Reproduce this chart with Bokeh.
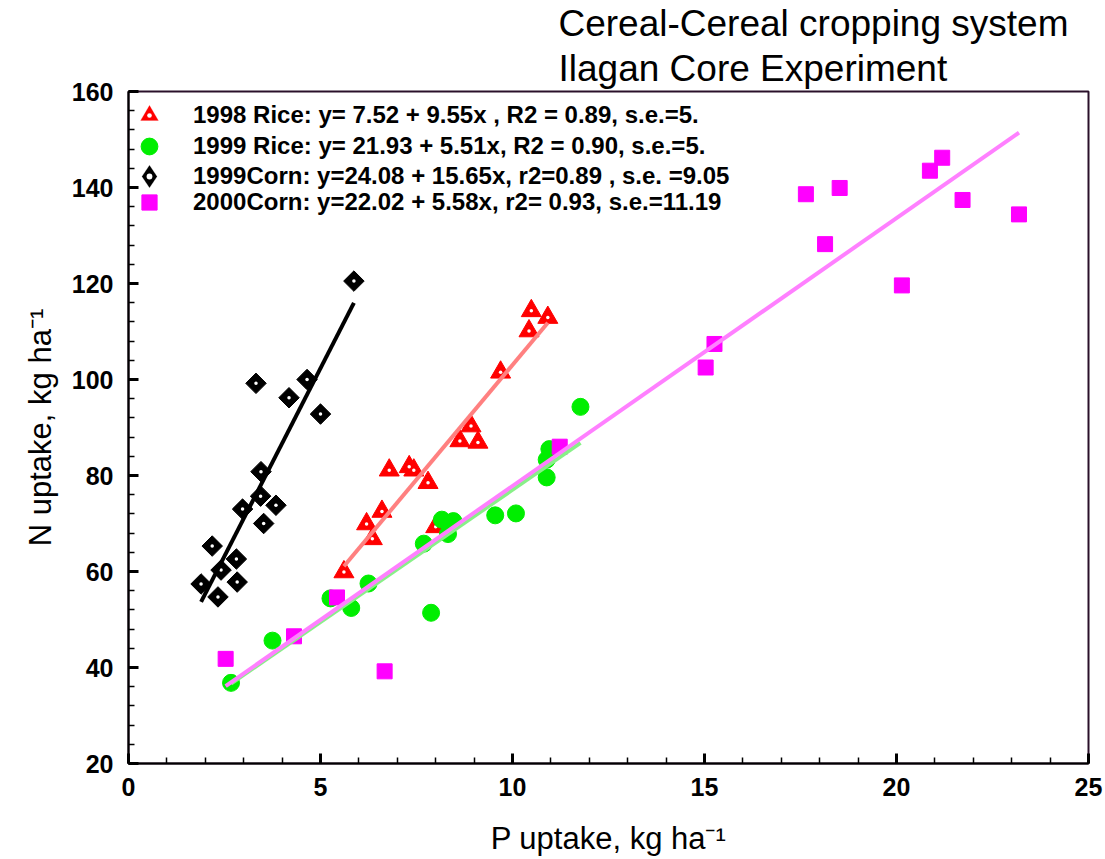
import math
from bokeh.plotting import figure
from bokeh.models import (Range1d, SingleIntervalTicker, Legend, LegendItem, Title)
from bokeh.embed import file_html
from bokeh.resources import INLINE

# ---------------- data ----------------
rice98_x = [10.49, 10.92, 10.43, 9.69, 8.92, 8.63, 9.10, 6.79, 7.31, 7.43, 7.80, 6.60, 6.20, 6.35, 8.00, 5.61]
rice98_y = [114.3, 112.9, 110.1, 101.5, 90.3, 87.2, 86.9, 81.1, 81.8, 81.1, 78.5, 72.5, 69.9, 66.8, 69.3, 59.9]

rice99_x = [2.67, 3.75, 5.26, 5.80, 6.25, 7.88, 7.69, 8.16, 8.46, 8.32, 9.55, 10.09, 10.89, 10.89, 10.96, 11.77]
rice99_y = [36.8, 45.6, 54.4, 52.4, 57.5, 51.4, 65.8, 70.8, 70.5, 67.8, 71.7, 72.1, 79.6, 83.3, 85.5, 94.3]

corn99_x = [5.87, 3.32, 4.65, 4.18, 5.00, 3.45, 3.44, 2.97, 3.84, 3.52, 2.18, 2.81, 2.41, 2.83, 1.89, 2.33]
corn99_y = [120.5, 99.2, 100.0, 96.2, 92.8, 80.8, 75.7, 73.0, 73.8, 70.0, 65.3, 62.6, 60.3, 57.8, 57.4, 54.7]

corn00_x = [2.53, 4.31, 5.43, 6.67, 11.23, 15.03, 15.26, 17.64, 18.14, 18.52, 20.14, 20.87, 21.19, 21.72, 23.19]
corn00_y = [41.8, 46.5, 54.6, 39.2, 86.0, 102.5, 107.4, 138.6, 128.2, 139.9, 119.6, 143.5, 146.2, 137.4, 134.4]

# regression coefficients (intercept, slope) as given in the legend
rice98_fit = [7.52, 9.55]
rice99_fit = [21.93, 5.51]
corn99_fit = [24.08, 15.65]
corn00_fit = [22.02, 5.58]

legend_labels = [
    "1998 Rice: y= 7.52 + 9.55x , R2 = 0.89, s.e.=5.",
    "1999 Rice: y= 21.93 + 5.51x, R2 = 0.90, s.e.=5.",
    "1999Corn: y=24.08 + 15.65x, r2=0.89 , s.e. =9.05",
    "2000Corn: y=22.02 + 5.58x, r2= 0.93, s.e.=11.19",
]
title_lines = ["Cereal-Cereal cropping system", "Ilagan Core Experiment"]
x_label = "P uptake, kg ha\u207b\u00b9"
y_label = "N uptake, kg ha\u207b\u00b9"

FONT = "Liberation Sans"

# ---------------- figure ----------------
W, H = 1105, 859
FL, FR, FT, FB = 128, 1088, 91, 763

p = figure(width=W, height=H, output_backend="svg", toolbar_location=None,
           x_range=Range1d(0, 25), y_range=Range1d(20, 160))
p.min_border_left = FL
p.min_border_right = W - FR
p.min_border_top = FT
p.min_border_bottom = H - FB
p.background_fill_color = "white"
p.border_fill_color = "white"
p.outline_line_color = "#2a102a"
p.outline_line_width = 2
p.xgrid.visible = False
p.ygrid.visible = False

for ax, interval in ((p.xaxis[0], 5), (p.yaxis[0], 20)):
    ax.ticker = SingleIntervalTicker(interval=interval, num_minor_ticks=5)
    ax.major_tick_in = 10
    ax.major_tick_out = 0
    ax.minor_tick_in = 6
    ax.minor_tick_out = 0
    ax.major_tick_line_width = 3
    ax.minor_tick_line_width = 1.5
    ax.axis_line_width = 2
    ax.axis_line_color = "black"
    ax.major_label_text_font = FONT
    ax.major_label_text_font_style = "bold"
    ax.major_label_text_font_size = "25px"
    ax.major_label_text_color = "black"
    ax.axis_label_text_font = FONT
    ax.axis_label_text_font_style = "normal"
    ax.axis_label_text_font_size = "31px"
    ax.axis_label_text_color = "black"

p.xaxis[0].axis_label = x_label
p.yaxis[0].axis_label = y_label
p.xaxis[0].major_label_standoff = 14
p.yaxis[0].major_label_standoff = 15
p.xaxis[0].axis_label_standoff = 22
p.yaxis[0].axis_label_standoff = 11

def fit_xy(xs, coef):
    x0, x1 = min(xs), max(xs)
    return [x0, x1], [coef[0] + coef[1] * x0, coef[0] + coef[1] * x1]

nan = float("nan")

# markers
p.scatter(corn99_x, corn99_y, marker="square", size=14.5, angle=math.pi / 4,
          fill_color="black", line_color="black")
p.scatter(corn99_x, corn99_y, marker="circle", size=3.5, fill_color="white", line_color=None)
p.scatter(rice98_x, rice98_y, marker="triangle", size=20,
          fill_color="red", line_color="red")
p.scatter(rice98_x, rice98_y, marker="circle", size=3.5, fill_color="white", line_color=None)
r_rice99 = p.scatter(rice99_x, rice99_y, marker="circle", size=17,
                     fill_color="#00ee00", line_color="#00ee00")
r_corn00 = p.scatter(corn00_x, corn00_y, marker="square", size=15,
                     fill_color="#ff00ff", line_color="#ff00ff")
# legend-only keys (legend glyphs ignore marker angle and overlays)
r_rice98_key = p.scatter([nan], [nan], marker="triangle_dot", size=20,
                         fill_color="red", line_color="white", line_width=0.3)
r_corn99_key = p.scatter([nan], [nan], marker="diamond_dot", size=14,
                         fill_color="black", line_color="white", line_width=0.3)

# fitted lines
lx, ly = fit_xy(corn99_x, corn99_fit)
p.line(lx, ly, line_color="black", line_width=4)
lx, ly = fit_xy(rice98_x, rice98_fit)
p.line(lx, ly, line_color="#ff8080", line_width=4)
lx, ly = fit_xy(rice99_x, rice99_fit)
p.line(lx, ly, line_color="#88f088", line_width=4)
lx, ly = fit_xy(corn00_x, corn00_fit)
p.line(lx, ly, line_color="#ff80ff", line_width=4)

# legend: one single-entry legend per row so that each key can be sized / placed
KEY_X, TEXT_X = 149, 193
rows = [(legend_labels[0], r_rice98_key, 115, 46),
        (legend_labels[1], r_rice99, 146, 42),
        (legend_labels[2], r_corn99_key, 176, 58),
        (legend_labels[3], r_corn00, 202, 38)]
for label, rend, cy, g in rows:
    lg = Legend(items=[LegendItem(label=label, renderers=[rend])],
                location=(KEY_X - g / 2 - FL, FB - (cy + g / 2)))
    lg.margin = 0
    lg.padding = 0
    lg.border_line_color = None
    lg.background_fill_alpha = 0
    lg.glyph_width = g
    lg.glyph_height = g
    lg.label_height = g
    lg.label_standoff = int(TEXT_X - KEY_X - g / 2)
    lg.label_text_font = FONT
    lg.label_text_font_style = "bold"
    lg.label_text_font_size = "24px"
    lg.label_text_color = "black"
    p.add_layout(lg, "center")

# title (two lines, upper right); first added sits nearest the frame
for txt, so in zip(reversed(title_lines), (5, 0)):
    p.add_layout(Title(text=txt, align="left", offset=558 - FL, standoff=so,
                       text_font=FONT, text_font_size="37px", text_font_style="normal",
                       text_line_height=0.85, text_color="black"), "above")

open("out.html", "w").write(file_html(p, INLINE))
